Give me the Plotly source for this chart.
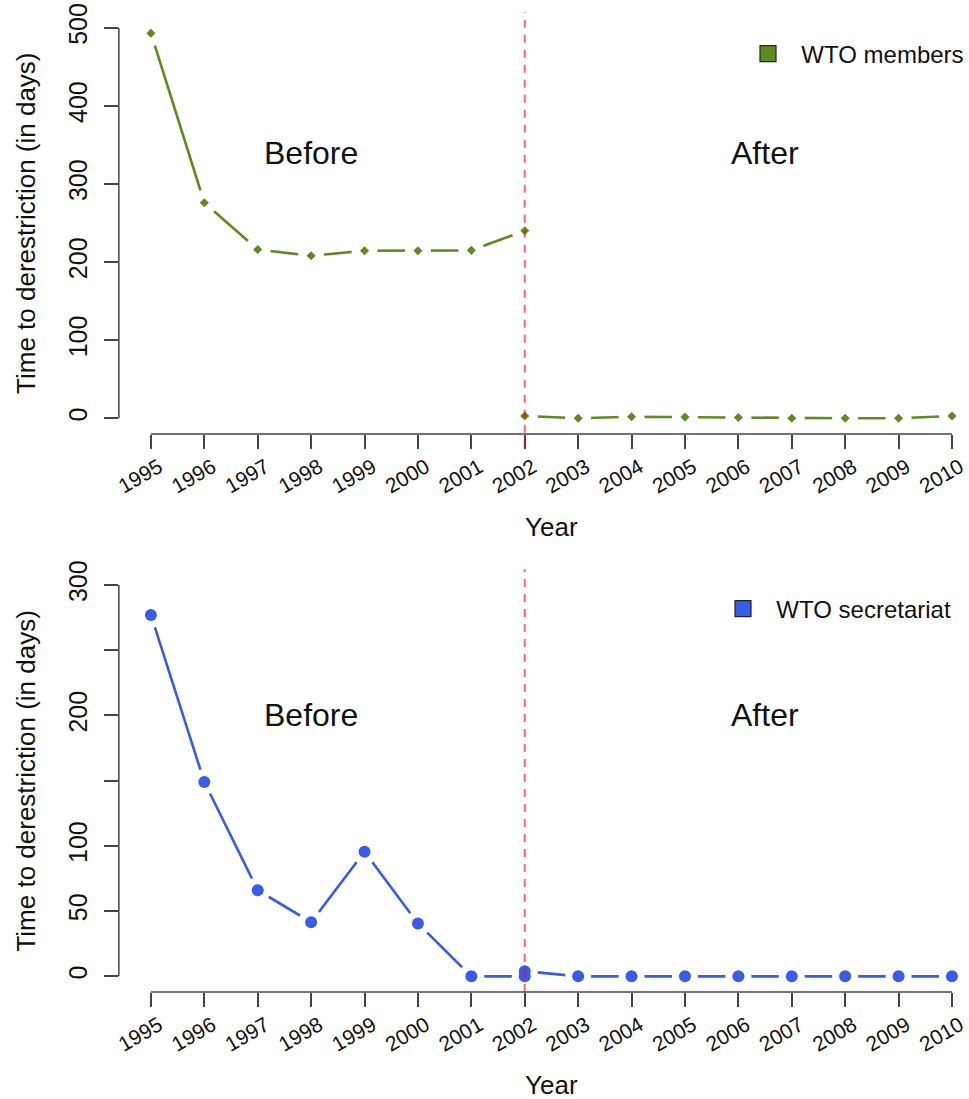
import plotly.graph_objects as go

# ---------------- data ----------------
years_before = [1995, 1996, 1997, 1998, 1999, 2000, 2001, 2002]
years_after = [2002, 2003, 2004, 2005, 2006, 2007, 2008, 2009, 2010]
all_years = [1995, 1996, 1997, 1998, 1999, 2000, 2001, 2002, 2003, 2004,
             2005, 2006, 2007, 2008, 2009, 2010]

members_before = [493, 276, 216, 208, 214.5, 214.5, 215, 240]
members_after = [3, 0, 2, 1.5, 1, 0, 0, 0, 3]

secretariat_before = [277, 149, 66, 41.5, 95.5, 40.5, 0, 0]
secretariat_after = [4, 0, 0, 0, 0, 0, 0, 0, 0]

cutoff_year = 2002
top_yticks = [0, 100, 200, 300, 400, 500]
bot_yticks = [0, 50, 100, 150, 200, 250, 300]
bot_yticklabels = ["0", "50", "100", "", "200", "", "300"]

top_range = [-20, 520]
bot_range = [-12, 312]

GREEN = "#5E8A20"
BLUE = "#3A5AE8"
RED = "rgba(255,0,0,0.6)"
AXC = "#444444"
TXT = "#111111"
FONT = "Liberation Sans, Arial, Helvetica, sans-serif"

W, H = 969, 1099

fig = go.Figure()


def add_series(xb, yb, xa, ya, color, symbol, msize, xaxis, yaxis, name, legend):
    for xs, ys in ((xb, yb), (xa, ya)):
        fig.add_trace(go.Scatter(x=xs, y=ys, mode="lines", xaxis=xaxis, yaxis=yaxis,
                                 line=dict(color=color, width=2.6),
                                 showlegend=False, hoverinfo="skip"))
    # white halos -> R type="b" gaps between line and points
    for xs, ys in ((xb, yb), (xa, ya)):
        fig.add_trace(go.Scatter(x=xs, y=ys, mode="markers", xaxis=xaxis, yaxis=yaxis,
                                 marker=dict(color="white", size=26, symbol="circle"),
                                 showlegend=False, hoverinfo="skip"))
    for xs, ys in ((xb, yb), (xa, ya)):
        fig.add_trace(go.Scatter(x=xs, y=ys, mode="markers", xaxis=xaxis, yaxis=yaxis,
                                 marker=dict(color=color, size=msize, symbol=symbol),
                                 showlegend=False))
    # legend entry
    fig.add_trace(go.Scatter(x=[None], y=[None], mode="markers", xaxis=xaxis, yaxis=yaxis,
                             name="\u00a0\u00a0" + name, legend=legend,
                             marker=dict(color=color, size=18, symbol="square",
                                         line=dict(color="#222222", width=1.2))))


add_series(years_before, members_before, years_after, members_after,
           GREEN, "diamond", 7, "x", "y", "WTO members", "legend")
add_series(years_before, secretariat_before, years_after, secretariat_after,
           BLUE, "circle", 12, "x2", "y2", "WTO secretariat", "legend2")

x_left_px = 119
xr = [1994.4, 2010.3]
top_dom = [1 - 433.9 / H, 1 - 12.1 / H]
bot_dom = [1 - 992.0 / H, 1 - 569.3 / H]

xcommon = dict(range=xr, domain=[x_left_px / W, 1], tickmode="array",
               tickvals=all_years, ticktext=[str(y) for y in all_years],
               tickangle=-30, ticks="outside", ticklen=14, tickwidth=1.5,
               tickcolor=AXC, showline=False, showgrid=False, zeroline=False,
               tickfont=dict(family=FONT, size=21, color=TXT),
               ticklabelstandoff=-2, ticklabelshift=8, ticklabeloverflow="allow",
               automargin=False)
ycommon = dict(ticks="outside", ticklen=14, tickwidth=1.5, tickcolor=AXC,
               showline=False, showgrid=False, zeroline=False, tickangle=-90,
               tickfont=dict(family=FONT, size=25, color=TXT),
               ticklabelstandoff=7, automargin=False)

fig.update_layout(
    width=W, height=H,
    margin=dict(l=0, r=0, t=0, b=0),
    paper_bgcolor="white", plot_bgcolor="white",
    font=dict(family=FONT, color=TXT),
    xaxis=dict(anchor="y", **xcommon),
    xaxis2=dict(anchor="y2", **xcommon),
    yaxis=dict(anchor="x", domain=top_dom, range=top_range, tickmode="array",
               tickvals=top_yticks, ticktext=[str(v) for v in top_yticks], **ycommon),
    yaxis2=dict(anchor="x2", domain=bot_dom, range=bot_range, tickmode="array",
                tickvals=bot_yticks, ticktext=bot_yticklabels, **ycommon),
    legend=dict(x=749 / W, y=1 - 54 / H, xanchor="left", yanchor="middle",
                font=dict(family=FONT, size=24, color=TXT),
                bgcolor="rgba(0,0,0,0)", borderwidth=0),
    legend2=dict(x=723 / W, y=1 - 609 / H, xanchor="left", yanchor="middle",
                 font=dict(family=FONT, size=24, color=TXT),
                 bgcolor="rgba(0,0,0,0)", borderwidth=0),
    showlegend=True,
)

shapes = []
for xa, ya, yt, ext in (("x", "y", top_yticks, -0.033), ("x2", "y2", bot_yticks, 0.0)):
    # R-style axis lines spanning only the tick range
    shapes.append(dict(type="line", xref=xa, yref=ya + " domain", x0=all_years[0],
                       x1=all_years[-1], y0=0, y1=0, line=dict(color=AXC, width=1.5)))
    shapes.append(dict(type="line", xref=xa + " domain", yref=ya, x0=0, x1=0,
                       y0=yt[0], y1=yt[-1], line=dict(color=AXC, width=1.5)))
    # cutoff line
    shapes.append(dict(type="line", xref=xa, yref=ya + " domain", x0=cutoff_year,
                       x1=cutoff_year, y0=ext, y1=1, layer="above",
                       line=dict(color=RED, width=2, dash="8px,7px")))
fig.update_layout(shapes=shapes)

annos = []
for xa, ya, ylev in (("x", "y", 340), ("x2", "y2", 200)):
    annos.append(dict(x=1998, y=ylev, xref=xa, yref=ya, text="Before", showarrow=False,
                      font=dict(family=FONT, size=32, color=TXT)))
    annos.append(dict(x=2006.5, y=ylev, xref=xa, yref=ya, text="After", showarrow=False,
                      font=dict(family=FONT, size=32, color=TXT)))
    annos.append(dict(x=26 / W, y=0.5, xref="paper", yref=ya + " domain",
                      xanchor="center", yanchor="middle",
                      text="Time to derestriction (in days)", textangle=-90,
                      showarrow=False, font=dict(family=FONT, size=26, color=TXT)))
annos.append(dict(x=(all_years[0] + all_years[-1]) / 2, y=1 - 527 / H, xref="x", yref="paper",
                  xanchor="center", yanchor="middle",
                  text="Year", showarrow=False, font=dict(family=FONT, size=26, color=TXT)))
annos.append(dict(x=(all_years[0] + all_years[-1]) / 2, y=1 - 1085 / H, xref="x2", yref="paper",
                  xanchor="center", yanchor="middle",
                  text="Year", showarrow=False, font=dict(family=FONT, size=26, color=TXT)))
fig.update_layout(annotations=annos)

fig.write_html("out.html",
               config={"displayModeBar": False},
               post_script="document.body.style.margin='0px';"
                           "document.body.style.overflow='hidden';")
